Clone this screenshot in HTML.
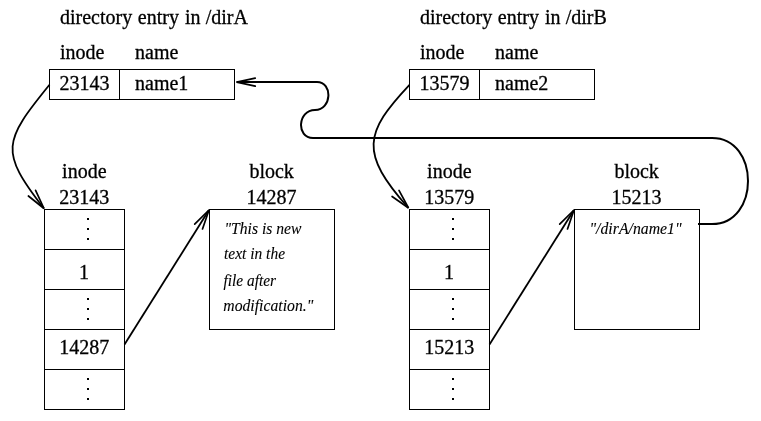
<!DOCTYPE html>
<html><head><meta charset="utf-8"><title>symlink diagram</title>
<style>
html,body{margin:0;padding:0;background:#fff;}
svg{display:block;filter:grayscale(1)}
text{font-family:"Liberation Serif","Times New Roman",serif;font-size:20px;fill:#000;stroke:#000;stroke-width:.3px}
.it{font-style:italic;font-size:16.2px;stroke-width:.1px}
.b{fill:none;stroke:#000;stroke-width:1}
.c{fill:none;stroke:#000;stroke-width:1.8;stroke-linecap:butt;stroke-linejoin:round}
.h{fill:none;stroke:#000;stroke-width:1.7;stroke-linecap:round;stroke-linejoin:miter}
.d{fill:#000}
</style></head><body>
<svg width="761" height="421" viewBox="0 0 761 421">
<rect width="761" height="421" fill="#fff"/>
<text y="23.6"><tspan x="60">directory</tspan> <tspan x="137.8">entry</tspan> <tspan x="185">in</tspan> <tspan x="205.7">/dirA</tspan></text>
<text x="60" y="58.5">inode</text>
<text x="135" y="58.5">name</text>
<rect class="b" x="49.5" y="69.5" width="185" height="30"/>
<line class="b" x1="119.5" y1="69.5" x2="119.5" y2="99.5"/>
<text x="59.5" y="90">23143</text>
<text x="135" y="90">name1</text>
<text y="23.6"><tspan x="420">directory</tspan> <tspan x="497.8">entry</tspan> <tspan x="545">in</tspan> <tspan x="565.7">/dirB</tspan></text>
<text x="420" y="58.5">inode</text>
<text x="495" y="58.5">name</text>
<rect class="b" x="409.5" y="69.5" width="185" height="30"/>
<line class="b" x1="479.5" y1="69.5" x2="479.5" y2="99.5"/>
<text x="419.5" y="90">13579</text>
<text x="495" y="90">name2</text>
<text x="84.3" y="178" text-anchor="middle">inode</text>
<text x="84.2" y="204" text-anchor="middle">23143</text>
<rect class="b" x="44.5" y="209.5" width="80" height="200"/>
<path class="b" d="M44.5 249.5h80M44.5 289.5h80M44.5 329.5h80M44.5 369.5h80"/>
<text x="84" y="279" text-anchor="middle">1</text>
<text x="84.3" y="354" text-anchor="middle">14287</text>
<text x="271.6" y="178" text-anchor="middle">block</text>
<text x="271.5" y="204" text-anchor="middle">14287</text>
<rect class="b" x="209.5" y="209.5" width="125" height="120"/>
<g class="d">
<rect x="87" y="218" width="2" height="2"/>
<rect x="87" y="228" width="2" height="2"/>
<rect x="87" y="238" width="2" height="2"/>
<rect x="87" y="298" width="2" height="2"/>
<rect x="87" y="308" width="2" height="2"/>
<rect x="87" y="318" width="2" height="2"/>
<rect x="87" y="378" width="2" height="2"/>
<rect x="87" y="388" width="2" height="2"/>
<rect x="87" y="398" width="2" height="2"/>
</g>
<path class="c" d="M124.5 344.5 L209 210"/>
<path class="h" d="M202.5 229.0 L209.0 210.0 L194.7 224.1"/>
<text x="449.3" y="178" text-anchor="middle">inode</text>
<text x="449.2" y="204" text-anchor="middle">13579</text>
<rect class="b" x="409.5" y="209.5" width="80" height="200"/>
<path class="b" d="M409.5 249.5h80M409.5 289.5h80M409.5 329.5h80M409.5 369.5h80"/>
<text x="449" y="279" text-anchor="middle">1</text>
<text x="449.3" y="354" text-anchor="middle">15213</text>
<text x="636.6" y="178" text-anchor="middle">block</text>
<text x="636.5" y="204" text-anchor="middle">15213</text>
<rect class="b" x="574.5" y="209.5" width="125" height="120"/>
<g class="d">
<rect x="452" y="218" width="2" height="2"/>
<rect x="452" y="228" width="2" height="2"/>
<rect x="452" y="238" width="2" height="2"/>
<rect x="452" y="298" width="2" height="2"/>
<rect x="452" y="308" width="2" height="2"/>
<rect x="452" y="318" width="2" height="2"/>
<rect x="452" y="378" width="2" height="2"/>
<rect x="452" y="388" width="2" height="2"/>
<rect x="452" y="398" width="2" height="2"/>
</g>
<path class="c" d="M489.5 344.5 L574 210"/>
<path class="h" d="M567.5 229.0 L574.0 210.0 L559.7 224.1"/>
<text class="it" x="224.5" y="234" textLength="77" lengthAdjust="spacingAndGlyphs">"This is new</text>
<text class="it" x="224" y="259.3" textLength="61" lengthAdjust="spacingAndGlyphs">text in the</text>
<text class="it" x="223.5" y="286" textLength="52.5" lengthAdjust="spacingAndGlyphs">file after</text>
<text class="it" x="223.3" y="310.5" textLength="90" lengthAdjust="spacingAndGlyphs">modification."</text>
<text class="it" x="589.5" y="234" textLength="92" lengthAdjust="spacingAndGlyphs">"/dirA/name1"</text>
<path class="c" d="M49.5 84.8 C 3.4 141.4, -0.9 151, 44 208.5"/>
<path class="h" d="M28.4 196.0 L44.0 208.5 L35.6 190.3"/>
<path class="c" d="M409.5 84.8 C 364.3 132.9, 359.3 152.8, 408.5 208"/>
<path class="h" d="M392.1 196.5 L408.5 208.0 L399.0 190.4"/>
<path class="c" style="stroke-width:2" d="M236.5 82 H317 C 333 82, 332 110, 315 110 C 297.5 110, 296 138, 313 138 H712 C 760 138, 760 224, 712 224 H698"/>
<path class="h" d="M255.2 78.2 L236.7 82.2 L255.2 86.2"/>
</svg>
</body></html>
